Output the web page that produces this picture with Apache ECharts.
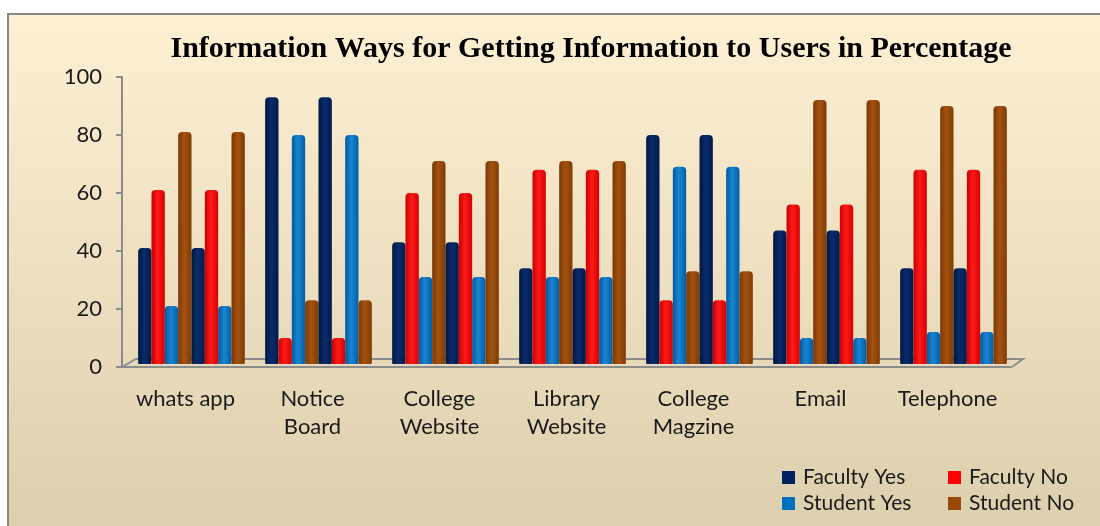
<!DOCTYPE html>
<html>
<head>
<meta charset="utf-8">
<script src="https://cdn.jsdelivr.net/npm/echarts@6/dist/echarts.min.js"></script>
<style>
  html, body { margin: 0; padding: 0; background: #ffffff; }
  #chart { width: 1100px; height: 526px; }
</style>
</head>
<body>
<div id="chart"></div>
<script>
// Channels through which information reaches users (percent)
const categories = ['whats app', 'Notice\nBoard', 'College\nWebsite', 'Library\nWebsite', 'College\nMagzine', 'Email', 'Telephone'];
const facultyYes = [40, 92, 42, 33, 79, 46, 33];
const facultyNo  = [60, 9, 59, 67, 22, 55, 67];
const studentYes = [20, 79, 30, 30, 68, 9, 11];
const studentNo  = [80, 22, 70, 70, 32, 91, 89];
const yTicks = [0, 20, 40, 60, 80, 100];

const palette = {
  'Faculty Yes': ['#00173f', '#0a2b6b', '#001a4a'],
  'Faculty No':  ['#c80000', '#ff1a1a', '#d60000'],
  'Student Yes': ['#0058a0', '#1a85d0', '#005ea6'],
  'Student No':  ['#7a3804', '#a4520f', '#803b05']
};
const solid = {
  'Faculty Yes': '#002060',
  'Faculty No': '#ff0000',
  'Student Yes': '#0070c0',
  'Student No': '#984807'
};

function cyl(name) {
  const c = palette[name];
  return {
    type: 'linear', x: 0, y: 0, x2: 1, y2: 0,
    colorStops: [
      { offset: 0, color: c[0] },
      { offset: 0.45, color: c[1] },
      { offset: 1, color: c[2] }
    ]
  };
}

function barSeries(name, values) {
  return {
    name: name,
    type: 'bar',
    xAxisIndex: 1,
    yAxisIndex: 1,
    z: 5,
    data: values,
    barGap: '0%',
    barCategoryGap: '16%',
    itemStyle: { color: cyl(name), borderRadius: [4, 4, 1, 1] },
    emphasis: { disabled: true }
  };
}

// The grouped set of four is drawn twice per category
const groups = [
  ['Faculty Yes', facultyYes], ['Faculty No', facultyNo],
  ['Student Yes', studentYes], ['Student No', studentNo]
];
const series = [];
for (let k = 0; k < 2; k++) {
  groups.forEach(g => series.push(barSeries(g[0], g[1])));
}

const labelFont = 'Lato, "Open Sans", sans-serif';

function legendItem(name, left, top) {
  return {
    data: [{ name: name, itemStyle: { color: solid[name] } }],
    left: left, top: top, padding: 0,
    icon: 'rect', itemWidth: 13, itemHeight: 13, itemGap: 0,
    selectedMode: false,
    textStyle: { fontFamily: labelFont, fontSize: 21, color: '#1a1a1a', padding: [0, 0, 0, 3] }
  };
}

const chart = echarts.init(document.getElementById('chart'), null, { renderer: 'canvas' });
chart.setOption({
  animation: false,
  backgroundColor: '#ffffff',
  title: {
    text: 'Information Ways for Getting Information to Users in Percentage',
    left: 586, top: 29, textAlign: 'center',
    textStyle: { fontFamily: '"Liberation Serif", "Times New Roman", serif', fontWeight: 'bold', fontSize: 30, color: '#000000' }
  },
  graphic: {
    elements: [
      {
        type: 'rect', z: -10, silent: true,
        shape: { x: 8, y: 14, width: 1100, height: 520 },
        style: {
          fill: { type: 'linear', x: 0, y: 0, x2: 0, y2: 1,
            colorStops: [{ offset: 0, color: '#fef0d3' }, { offset: 1, color: '#dccfad' }] },
          stroke: '#878787', lineWidth: 2
        }
      },
      {
        // floor of the plot
        type: 'polyline', z: -5, silent: true,
        shape: { points: [[122, 367], [136, 359], [1023, 359], [1012, 367]] },
        style: { stroke: '#8c8c8c', lineWidth: 2, fill: null }
      }
    ]
  },
  legend: [
    legendItem('Faculty Yes', 782, 467),
    legendItem('Faculty No', 948, 467),
    legendItem('Student Yes', 782, 493),
    legendItem('Student No', 948, 493)
  ],
  grid: [
    { left: 122, right: 89, top: 77, bottom: 159 },
    { left: 128, right: 83, top: 74, bottom: 162 }
  ],
  xAxis: [
    {
      type: 'category', gridIndex: 0, data: categories,
      axisLine: { lineStyle: { color: '#8c8c8c', width: 2 } },
      axisTick: { length: 8, lineStyle: { color: '#8c8c8c', width: 2 } },
      axisLabel: { fontFamily: labelFont, fontSize: 22, color: '#1a1a1a', lineHeight: 28, margin: 18, interval: 0 }
    },
    { type: 'category', gridIndex: 1, data: categories, show: false }
  ],
  yAxis: [
    {
      type: 'value', gridIndex: 0, min: 0, max: 100, interval: 20,
      axisLine: { show: true, lineStyle: { color: '#8c8c8c', width: 2 } },
      axisTick: { show: true, length: 6, lineStyle: { color: '#8c8c8c', width: 2 } },
      splitLine: { show: false },
      axisLabel: {
        fontFamily: labelFont, fontSize: 22, color: '#1a1a1a', margin: 20,
        formatter: v => (yTicks.indexOf(v) >= 0 ? String(v) : '')
      }
    },
    { type: 'value', gridIndex: 1, min: 0, max: 100, show: false }
  ],
  series: series
});
</script>
</body>
</html>
